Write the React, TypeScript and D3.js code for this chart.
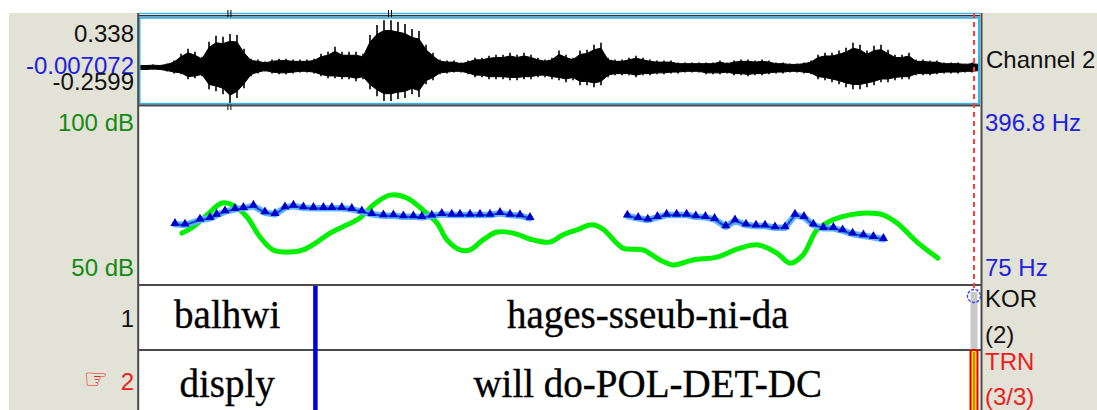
import React from 'react';
import * as d3 from 'd3';

const W = 1097;
const H = 410;

// waveform, one value every 17.5 ms: peak excursion above / below the DC level
const waveDc = -0.007072;
const waveTop = 0.338;
const waveBottom = -0.2599;
const waveStep = 0.0175;
const waveUpper = [
  0.018, 0.018, 0.021, 0.018, 0.028, 0.049, 0.098, 0.134, 0.112, 0.077,
  0.183, 0.225, 0.218, 0.239, 0.232, 0.134, 0.063, 0.056, 0.042, 0.056,
  0.063, 0.063, 0.056, 0.056, 0.056, 0.063, 0.098, 0.112, 0.148, 0.112,
  0.112, 0.112, 0.098, 0.232, 0.302, 0.337, 0.337, 0.323, 0.309, 0.274,
  0.260, 0.162, 0.105, 0.056, 0.049, 0.049, 0.035, 0.049, 0.070, 0.070,
  0.084, 0.091, 0.091, 0.105, 0.091, 0.105, 0.091, 0.070, 0.056, 0.070,
  0.120, 0.091, 0.070, 0.120, 0.127, 0.162, 0.176, 0.070, 0.056, 0.056,
  0.070, 0.084, 0.070, 0.056, 0.049, 0.049, 0.049, 0.035, 0.035, 0.035,
  0.035, 0.035, 0.035, 0.049, 0.035, 0.049, 0.056, 0.056, 0.049, 0.056,
  0.049, 0.035, 0.035, 0.028, 0.028, 0.035, 0.049, 0.091, 0.105, 0.105,
  0.120, 0.141, 0.176, 0.162, 0.120, 0.155, 0.162, 0.127, 0.091, 0.091,
  0.105, 0.056, 0.056, 0.049, 0.049, 0.035, 0.035, 0.035, 0.028, 0.035, 0.028,
];
const waveLower = [
  0.018, 0.018, 0.014, 0.018, 0.028, 0.042, 0.049, 0.084, 0.077, 0.063,
  0.155, 0.169, 0.190, 0.253, 0.218, 0.148, 0.063, 0.042, 0.028, 0.042,
  0.049, 0.049, 0.042, 0.035, 0.035, 0.042, 0.063, 0.077, 0.077, 0.084,
  0.084, 0.098, 0.084, 0.155, 0.204, 0.239, 0.239, 0.225, 0.218, 0.190,
  0.211, 0.120, 0.091, 0.049, 0.042, 0.035, 0.035, 0.049, 0.070, 0.070,
  0.084, 0.084, 0.084, 0.091, 0.091, 0.084, 0.084, 0.070, 0.070, 0.084,
  0.091, 0.105, 0.091, 0.127, 0.127, 0.141, 0.127, 0.070, 0.056, 0.056,
  0.056, 0.070, 0.056, 0.056, 0.049, 0.049, 0.042, 0.042, 0.035, 0.035,
  0.035, 0.049, 0.049, 0.049, 0.042, 0.056, 0.056, 0.063, 0.056, 0.056,
  0.049, 0.042, 0.042, 0.035, 0.035, 0.042, 0.049, 0.084, 0.091, 0.105,
  0.120, 0.141, 0.155, 0.155, 0.141, 0.127, 0.105, 0.105, 0.091, 0.084,
  0.084, 0.056, 0.056, 0.056, 0.049, 0.042, 0.042, 0.042, 0.035, 0.035, 0.028,
];

// pitch (Hz), two voiced stretches
const pitch1Time = [
  0.090, 0.115, 0.1525, 0.1775, 0.194, 0.215, 0.240, 0.261, 0.286, 0.315,
  0.340, 0.365, 0.386, 0.411, 0.436, 0.461, 0.482, 0.507, 0.532, 0.557,
  0.582, 0.611, 0.636, 0.661, 0.686, 0.707, 0.732, 0.757, 0.782, 0.8025,
  0.8275, 0.8525, 0.8775, 0.9025, 0.9275, 0.9525, 0.9775,
];
const pitch1Hz = [
  184.1, 182.9, 191.9, 194.9, 200.8, 206.8, 211.1, 212.9, 217.0, 205.0,
  202.1, 214.0, 217.0, 214.0, 212.9, 212.9, 212.9, 212.9, 211.1, 206.8,
  202.1, 199.6, 199.6, 197.8, 197.8, 196.7, 199.1, 202.1, 200.8, 200.8,
  200.8, 200.8, 200.8, 203.9, 200.8, 199.6, 194.9,
];
const pitch2Time = [
  1.221, 1.248, 1.272, 1.296, 1.319, 1.344, 1.369, 1.392, 1.416, 1.439,
  1.467, 1.490, 1.5175, 1.5425, 1.565, 1.590, 1.615, 1.640, 1.6625, 1.686,
  1.711, 1.736, 1.759, 1.784, 1.811, 1.836, 1.861,
];
const pitch2Hz = [
  199.1, 194.9, 191.9, 196.7, 200.8, 200.8, 200.8, 197.8, 196.7, 193.1,
  179.8, 190.6, 182.9, 181.1, 181.1, 178.0, 178.0, 200.8, 196.7, 182.9,
  176.9, 176.9, 172.6, 166.7, 163.6, 160.8, 157.2,
];

// intensity (dB)
const intensityTime = [
  0.1075, 0.135, 0.170, 0.2075, 0.235, 0.270, 0.3025, 0.335, 0.3775, 0.410,
  0.445, 0.4775, 0.520, 0.5525, 0.585, 0.6275, 0.670, 0.710, 0.745, 0.770,
  0.8025, 0.8275, 0.860, 0.895, 0.935, 0.985, 1.0275, 1.060, 1.095, 1.1325,
  1.160, 1.210, 1.260, 1.3025, 1.335, 1.385, 1.445, 1.5025, 1.5475, 1.595,
  1.6275, 1.660, 1.695, 1.735, 1.7775, 1.820, 1.860, 1.895, 1.945, 1.9975,
];
const intensityDb = [
  64.5, 66.2, 69.6, 72.9, 72.3, 69.0, 63.4, 59.8, 59.2, 59.8,
  62.0, 64.5, 66.8, 68.7, 72.3, 75.1, 74.3, 70.9, 67.3, 62.6,
  59.8, 59.8, 62.6, 64.8, 64.5, 62.6, 62.0, 64.0, 65.4, 66.8,
  65.6, 60.3, 59.8, 57.0, 55.6, 57.0, 57.8, 60.3, 61.2, 58.9,
  56.1, 58.4, 65.4, 68.2, 69.6, 70.1, 69.6, 67.3, 62.0, 57.5,
];

const duration = 2.1025;
const cursorTime = 2.0875;
const boundaryTime = 0.441;
const tierNames = ['KOR', 'TRN'];
const tierCounts = ['(2)', '(3/3)'];
const tierNumbers = ['1', '2'];
const tier1Labels = ['balhwi', 'hages-sseub-ni-da'];
const tier2Labels = ['disply', 'will do-POL-DET-DC'];
const dbRange = [50, 100];
const hzRange = [75, 396.8];

const PANEL = '#e2e2d6';
const DARK = '#4a4a4a';
const WAVE_BLUE = '#3cb4e6';
const SANS = '"Liberation Sans", Arial, sans-serif';
const SERIF = '"Liberation Serif", "Times New Roman", serif';

export default function App() {
  const left = 139;
  const right = 980;
  const x = d3.scaleLinear([0, duration], [left, right]);
  const yWave = d3.scaleLinear([waveBottom, waveTop], [103, 19]);
  const yDb = d3.scaleLinear(dbRange, [285, 106]);
  const yHz = d3.scaleLinear(hzRange, [285, 106]);

  // dense body of the signal, with the peaks drawn as spikes on top
  const core = 0.78;
  const waveArea = d3.area<number>()
    .x((_, i) => x(i * waveStep))
    .y0((_, i) => yWave(waveDc - waveLower[i] * core))
    .y1((d) => yWave(waveDc + d * core))
    .curve(d3.curveLinear);

  const pitchSegs = [
    pitch1Time.map((t, i) => [t, pitch1Hz[i]] as [number, number]),
    pitch2Time.map((t, i) => [t, pitch2Hz[i]] as [number, number]),
  ];
  const pitchLine = d3.line<[number, number]>()
    .x((d) => x(d[0]))
    .y((d) => yHz(d[1]));
  const dbLine = d3.line<number>()
    .x((_, i) => x(intensityTime[i]))
    .y((d) => yDb(d))
    .curve(d3.curveCatmullRom);
  const tri = d3.symbol(d3.symbolTriangle, 36)() as string;

  const bx = x(boundaryTime);
  const cx = x(cursorTime);
  const tierTop = [285, 350];
  const tierMid = [(left + bx) / 2, (bx + right) / 2];
  const tierBase = [328, 397];

  return (
    <svg width={W} height={H} style={{ position: 'absolute', left: 0, top: 0 }}>
      <rect x={0} y={0} width={W} height={H} fill="#fff" />
      <rect x={9} y={13} width={left - 9} height={H - 13} fill={PANEL} />
      <rect x={right + 1} y={13} width={W - right - 1} height={H - 13} fill={PANEL} />

      {/* waveform */}
      <line x1={left} x2={right} y1={13.5} y2={13.5} stroke={WAVE_BLUE} strokeWidth={1.5} />
      <line x1={left} x2={right} y1={15.7} y2={15.7} stroke="#333" strokeWidth={1.5} />
      <path d={waveArea(waveUpper) as string} fill="#000" stroke="#000" strokeWidth={1} />
      <g stroke="#000" strokeWidth={1.6}>
        {waveUpper.map((u, i) => (
          <line key={i} x1={x(i * waveStep)} x2={x(i * waveStep)} y1={yWave(waveDc + u)} y2={yWave(waveDc - waveLower[i])} />
        ))}
      </g>
      <rect x={left + 0.5} y={17.8} width={right - left - 1.5} height={86} fill="none" stroke={WAVE_BLUE} strokeWidth={2} />
      {[0.226, 0.6275].map((t) => (
        <g key={t} stroke="#000" strokeWidth={1}>
          <line x1={x(t) - 1.5} x2={x(t) - 1.5} y1={10} y2={17} />
          <line x1={x(t) + 1.5} x2={x(t) + 1.5} y1={10} y2={17} />
        </g>
      ))}
      <g stroke="#000" strokeWidth={1}>
        <line x1={x(0.226) - 1.5} x2={x(0.226) - 1.5} y1={104} y2={110} />
        <line x1={x(0.226) + 1.5} x2={x(0.226) + 1.5} y1={104} y2={110} />
      </g>
      <line x1={left} x2={right} y1={105.5} y2={105.5} stroke={DARK} strokeWidth={2} />

      {/* pitch + intensity */}
      <path d={dbLine(intensityDb) as string} fill="none" stroke="#00f000" strokeWidth={5} strokeLinejoin="round" strokeLinecap="round" />
      {pitchSegs.map((seg, k) => (
        <g key={k}>
          <path d={pitchLine(seg) as string} fill="none" stroke="#5ab4ff" strokeWidth={6.5} strokeLinejoin="round" strokeLinecap="round" />
          <path d={pitchLine(seg) as string} fill="none" stroke="#1f3fd8" strokeWidth={2} />
          {seg.map((d, i) => (
            <path key={i} d={tri} transform={`translate(${x(d[0])},${yHz(d[1]) - 1})`} fill="#0000c8" />
          ))}
        </g>
      ))}

      {/* tiers */}
      {tierTop.map((y) => (
        <line key={y} x1={left} x2={right + 1} y1={y} y2={y} stroke={DARK} strokeWidth={2} />
      ))}
      <line x1={bx} x2={bx} y1={286} y2={H} stroke="#0000dd" strokeWidth={4.5} />
      <g fontFamily={SERIF} fontSize={39} fill="#000" stroke="#000" strokeWidth={0.35} textAnchor="middle">
        {tier1Labels.map((s, i) => (
          <text key={s} x={tierMid[i]} y={tierBase[0]}>{s}</text>
        ))}
        {tier2Labels.map((s, i) => (
          <text key={s} x={tierMid[i]} y={tierBase[1]}>{s}</text>
        ))}
      </g>

      {/* cursor and tier selection marks */}
      <line x1={cx} x2={cx} y1={13} y2={288} stroke="#ff3b3b" strokeWidth={2} strokeDasharray="5,4" />
      <rect x={cx - 3.5} y={292} width={7} height={58} fill="#c8c8c8" />
      <circle cx={cx} cy={296} r={6.5} fill="none" stroke="#3333ff" strokeWidth={1.3} strokeDasharray="3,1.5" />
      <rect x={cx - 3.5} y={350} width={7} height={70} rx={2} fill="#ffee00" stroke="#e00000" strokeWidth={2} />
      <line x1={cx} x2={cx} y1={352} y2={H} stroke="#e00000" strokeWidth={1} />

      {/* panel frames */}
      <line x1={138.2} x2={138.2} y1={13} y2={H} stroke={DARK} strokeWidth={2} />
      <line x1={right + 1.5} x2={right + 1.5} y1={13} y2={H} stroke={DARK} strokeWidth={2} />

      {/* left labels */}
      <g fontFamily={SANS} fontSize={24} textAnchor="end">
        <text x={134} y={42} fill="#111">0.338</text>
        <text x={134} y={74} fill="#2020e0">{String(waveDc)}</text>
        <text x={134} y={90} fill="#111">{String(waveBottom)}</text>
        <text x={134} y={131} fill="#138a13">{`${dbRange[1]} dB`}</text>
        <text x={134} y={276} fill="#138a13">{`${dbRange[0]} dB`}</text>
        <text x={134} y={327} fill="#111">{tierNumbers[0]}</text>
        <text x={134} y={390} fill="#ee1c1c">{tierNumbers[1]}</text>
      </g>
      <text x={108} y={388} textAnchor="end" fontFamily='"DejaVu Sans", sans-serif' fontSize={27} fill="#ee1c1c">☞</text>

      {/* right labels */}
      <g fontFamily={SANS} fontSize={24}>
        <text x={986} y={68} fill="#111">Channel 2</text>
        <text x={985} y={131} fill="#2020e0">{`${hzRange[1]} Hz`}</text>
        <text x={985} y={276} fill="#2020e0">{`${hzRange[0]} Hz`}</text>
        <text x={985} y={307} fill="#111">{tierNames[0]}</text>
        <text x={985} y={343} fill="#111">{tierCounts[0]}</text>
        <text x={985} y={370} fill="#ee1c1c">{tierNames[1]}</text>
        <text x={985} y={405} fill="#ee1c1c">{tierCounts[1]}</text>
      </g>
    </svg>
  );
}
